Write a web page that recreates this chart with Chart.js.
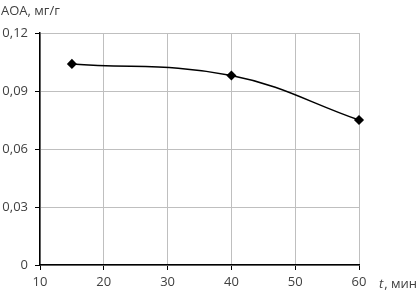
<!DOCTYPE html>
<html>
<head>
<meta charset="utf-8">
<script src="https://cdn.jsdelivr.net/npm/chart.js@4"></script>
<style>
    html, body { margin: 0; padding: 0; background: #fff; }
    #wrap { width: 420px; height: 298px; }
</style>
</head>
<body>
<div id="wrap"><canvas id="chart-aoa" width="420" height="298"></canvas></div>
<script>
// Data
const timeMin = [15, 40, 60];
const aoaValues = [0.104, 0.098, 0.075];
const xTicks = [10, 20, 30, 40, 50, 60];
const yTicks = [0, 0.03, 0.06, 0.09, 0.12];

const FONT = '"Open Sans", "Liberation Sans", sans-serif';
const TEXT_COLOR = '#404040';

const fmt = v => (v === 0 ? '0' : v.toFixed(2).replace('.', ','));

// Axis titles drawn on the canvas
const axisTitles = {
    id: 'axisTitles',
    afterDraw(chart) {
        const c = chart.ctx;
        c.save();
        c.fillStyle = TEXT_COLOR;
        c.textBaseline = 'middle';
        c.textAlign = 'left';
        c.font = '13px ' + FONT;
        c.fillText('АОА, мг/г', 1, 11);

        c.font = 'italic 13px ' + FONT;
        c.fillText('t', 379, 284);
        const w = c.measureText('t').width;
        c.font = '13px ' + FONT;
        c.fillText(', мин', 379 + w + 1, 284);
        c.restore();
    }
};

const ctx = document.getElementById('chart-aoa');
new Chart(ctx, {
    type: 'line',
    data: {
        datasets: [{
            data: timeMin.map((t, i) => ({ x: t, y: aoaValues[i] })),
            borderColor: '#000',
            borderWidth: 1.5,
            backgroundColor: '#000',
            pointStyle: 'rectRot',
            pointRadius: 4,
            pointHoverRadius: 4,
            tension: 0.4,
            fill: false,
            clip: false
        }]
    },
    options: {
        responsive: false,
        animation: false,
        layout: { padding: { top: 33, right: 61, left: 0, bottom: 0 } },
        plugins: {
            legend: { display: false },
            tooltip: { enabled: false }
        },
        scales: {
            x: {
                type: 'linear',
                min: 10,
                max: 60,
                afterBuildTicks: s => { s.ticks = xTicks.map(v => ({ value: v })); },
                afterFit: s => { s.height = 33; },
                grid: { color: '#bfbfbf', lineWidth: 1, tickColor: '#000', tickLength: 5 },
                border: { color: '#000', width: 1.5 },
                ticks: {
                    color: TEXT_COLOR,
                    font: { family: FONT, size: 13 },
                    padding: 4,
                    maxRotation: 0
                }
            },
            y: {
                min: 0,
                max: 0.12,
                afterBuildTicks: s => { s.ticks = yTicks.map(v => ({ value: v })); },
                afterFit: s => { s.width = 40; },
                grid: { color: '#bfbfbf', lineWidth: 1, tickColor: '#000', tickLength: 5 },
                border: { color: '#000', width: 1.5 },
                ticks: {
                    color: TEXT_COLOR,
                    font: { family: FONT, size: 13 },
                    padding: 7,
                    callback: v => fmt(v)
                }
            }
        }
    },
    plugins: [axisTitles]
});
</script>
</body>
</html>
